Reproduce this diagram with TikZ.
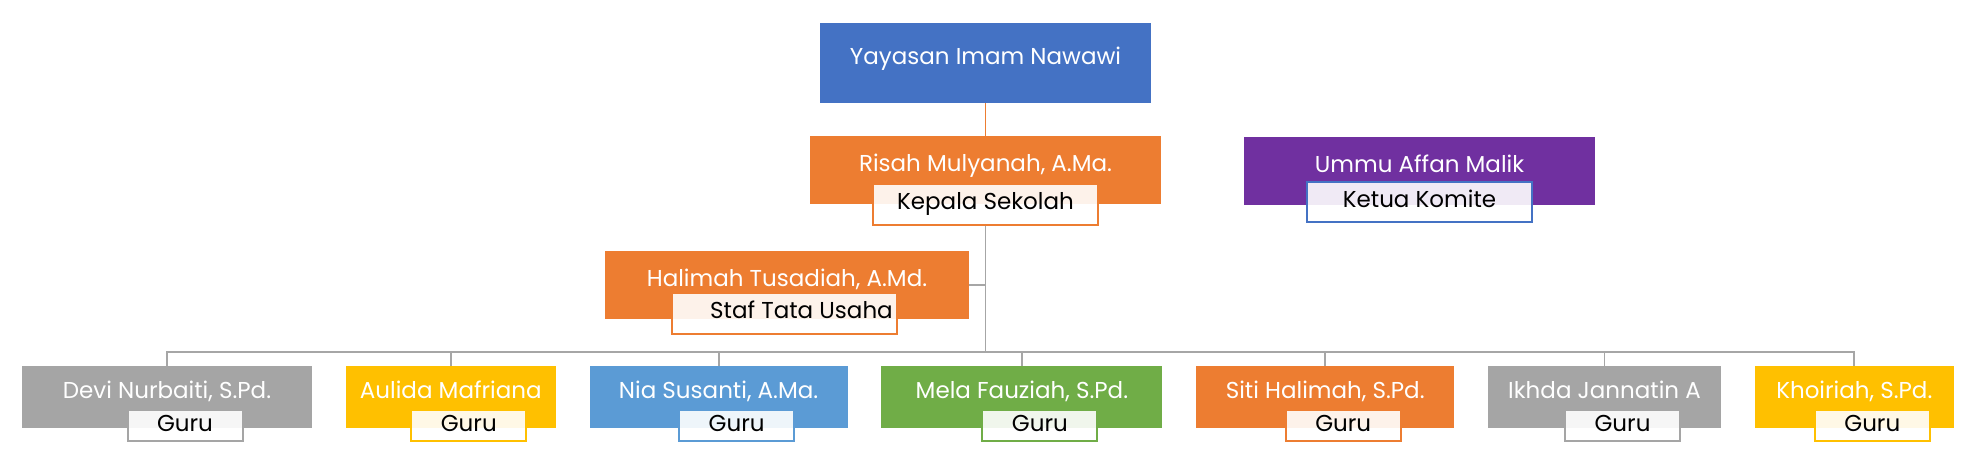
\documentclass[tikz,border=0pt]{standalone}
\usepackage{fontspec}
\setmainfont{Poppins}
\usepackage{tikz}
\usetikzlibrary{positioning, calc}

\definecolor{accblue}{HTML}{4472C4}
\definecolor{accorange}{HTML}{ED7D31}
\definecolor{accpurple}{HTML}{7030A0}
\definecolor{accgray}{HTML}{A5A5A5}
\definecolor{accgold}{HTML}{FFC000}
\definecolor{acclblue}{HTML}{5B9BD5}
\definecolor{accgreen}{HTML}{70AD47}
\definecolor{linkgray}{HTML}{A6A6A6}

\begin{document}
\begin{tikzpicture}[
    x=0.5pt, y=-0.5pt,
    node distance=16.5pt,
    every node/.style={font=\fontsize{11.5}{13.5}\selectfont},
    person/.style={inner xsep=2pt, inner ysep=0pt, text=white, align=center},
    toprole/.style={person, minimum width=165.5pt, text height=20.5pt, text depth=19.5pt},
    midrole/.style={person, minimum width=175.5pt, text height=17.5pt, text depth=16.5pt},
    guru/.style={person, text height=16pt, text depth=15pt},
    title/.style={draw, line width=1pt, fill=white, fill opacity=0.9, text opacity=1,
                  text=black, inner xsep=0pt, inner ysep=0pt, font=\fontsize{11.5}{13}\selectfont},
    midtitle/.style={title, minimum width=112.5pt, text height=12.75pt, text depth=7.5pt},
    gurutitle/.style={title, minimum width=57.5pt, text height=10.5pt, text depth=5pt},
    link/.style={draw=linkgray, line width=0.9pt}
]
\useasboundingbox (0,0) rectangle (1970,466);

% pimpinan
\node[toprole, fill=accblue] (yayasan) at (985.5,63) {Yayasan Imam Nawawi};
\node[midrole, fill=accorange] (risah) at (985.5,170) {Risah Mulyanah, A.Ma.};
\node[midrole, fill=accpurple] (ummu) at (1419.5,171) {Ummu Affan Malik};
\node[midrole, fill=accorange, minimum width=182pt] (halimah) at (787,285) {Halimah Tusadiah, A.Md.};

\node[midtitle, draw=accorange] (kepala) at (risah.south) {Kepala Sekolah};
\node[midtitle, draw=accblue] (ketua) at ([yshift=1.75pt]ummu.south) {Ketua Komite};
\node[midtitle, draw=accorange] (staf) at ([xshift=-1.25pt, yshift=3pt]halimah.south) {\hspace{17pt}Staf Tata Usaha};

% guru
\node[guru, fill=accgray, minimum width=145pt] (devi) at (167,397) {Devi Nurbaiti, S.Pd.};
\node[guru, fill=accgold, minimum width=105pt, right=of devi] (aulida) {Aulida Mafriana};
\node[guru, fill=acclblue, minimum width=129pt, right=of aulida] (nia) {Nia Susanti, A.Ma.};
\node[guru, fill=accgreen, minimum width=140.5pt, right=of nia] (mela) {Mela Fauziah, S.Pd.};
\node[guru, fill=accorange, minimum width=129pt, right=of mela] (siti) {Siti Halimah, S.Pd.};
\node[guru, fill=accgray, minimum width=116.5pt, right=of siti] (ikhda) {Ikhda Jannatin A};
\node[guru, fill=accgold, minimum width=99.5pt, right=of ikhda] (khoiriah) {Khoiriah, S.Pd.};

\node[gurutitle, draw=accgray] (gdevi) at ([xshift=9pt, yshift=1.25pt]devi.south) {Guru};
\node[gurutitle, draw=accgold] (gaulida) at ([xshift=9pt, yshift=1.25pt]aulida.south) {Guru};
\node[gurutitle, draw=acclblue] (gnia) at ([xshift=9pt, yshift=1.25pt]nia.south) {Guru};
\node[gurutitle, draw=accgreen] (gmela) at ([xshift=9pt, yshift=1.25pt]mela.south) {Guru};
\node[gurutitle, draw=accorange] (gsiti) at ([xshift=9pt, yshift=1.25pt]siti.south) {Guru};
\node[gurutitle, draw=accgray] (gikhda) at ([xshift=9pt, yshift=1.25pt]ikhda.south) {Guru};
\node[gurutitle, draw=accgold] (gkhoiriah) at ([xshift=9pt, yshift=1.25pt]khoiriah.south) {Guru};

% garis
\coordinate (bus) at ($(kepala.south)+(0,126)$);
\draw[draw=accorange, line width=0.8pt] (yayasan) -- (risah);
\draw[link] (kepala.south) -- (bus);
\draw[link] (halimah.east) -- (halimah.east -| bus);
\draw[link] (bus) -| (devi.north);
\draw[link] (bus) -| (aulida.north);
\draw[link] (bus) -| (nia.north);
\draw[link] (bus) -| (mela.north);
\draw[link] (bus) -| (siti.north);
\draw[link] (bus) -| (ikhda.north);
\draw[link] (bus) -| (khoiriah.north);
\end{tikzpicture}
\end{document}
